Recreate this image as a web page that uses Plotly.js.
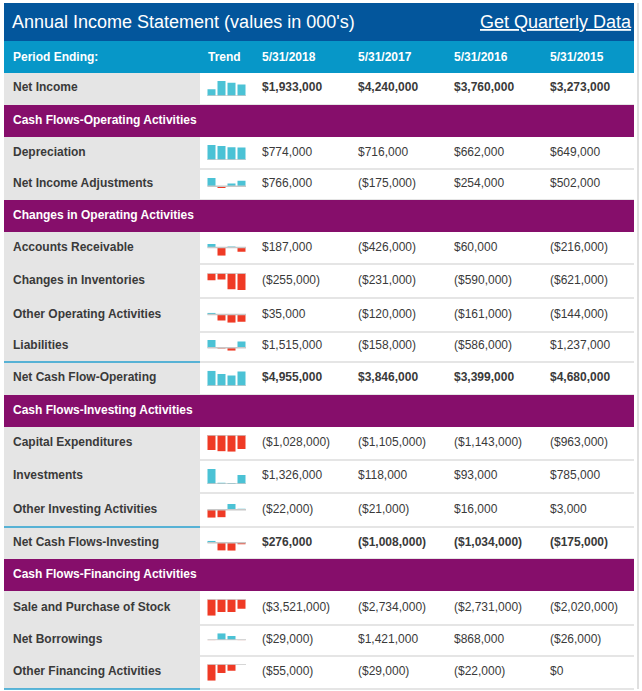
<!DOCTYPE html>
<html><head><meta charset="utf-8">
<script src="https://cdn.plot.ly/plotly-3.0.1.min.js"></script>
<style>html,body{margin:0;padding:0;background:#fff;}#chart{width:642px;height:691px;}</style>
</head><body><div id="chart"></div>
<script>
// ---------- DATA ----------
const chartTitle = "Annual Income Statement (values in 000's)";
const linkText = "Get Quarterly Data";
const headerLabel = "Period Ending:";
const trendLabel = "Trend";
const periods = ['5/31/2018', '5/31/2017', '5/31/2016', '5/31/2015'];
const sections = ['Cash Flows-Operating Activities', 'Changes in Operating Activities',
                  'Cash Flows-Investing Activities', 'Cash Flows-Financing Activities'];
const items = ['Net Income', 'Depreciation', 'Net Income Adjustments', 'Accounts Receivable',
  'Changes in Inventories', 'Other Operating Activities', 'Liabilities', 'Net Cash Flow-Operating',
  'Capital Expenditures', 'Investments', 'Other Investing Activities', 'Net Cash Flows-Investing',
  'Sale and Purchase of Stock', 'Net Borrowings', 'Other Financing Activities'];
const v2018 = [1933000, 774000, 766000, 187000, -255000, 35000, 1515000, 4955000,
  -1028000, 1326000, -22000, 276000, -3521000, -29000, -55000];
const v2017 = [4240000, 716000, -175000, -426000, -231000, -120000, -158000, 3846000,
  -1105000, 118000, -21000, -1008000, -2734000, 1421000, -29000];
const v2016 = [3760000, 662000, 254000, 60000, -590000, -161000, -586000, 3399000,
  -1143000, 93000, 16000, -1034000, -2731000, 868000, -22000];
const v2015 = [3273000, 649000, 502000, -216000, -621000, -144000, 1237000, 4680000,
  -963000, 785000, 3000, -175000, -2020000, -26000, 0];
const totalItems = ['Net Income', 'Net Cash Flow-Operating', 'Net Cash Flows-Investing'];

// ---------- LAYOUT (pixels) ----------
const W = 642, H = 691;
const order = ['i0','s0','i1','i2','s1','i3','i4','i5','i6','i7','s2','i8','i9','i10','i11','s3','i12','i13','i14'];
const rowY = [73,105,137,169,200,232,264,298,332,362,395,427,460,493,527,559,591,625,656,689];
const sparkTop = [81,145,178,244,273.3,312.7,340,370.7,435,469,504,540.7,599.3,633.3,664.3];
const sparkBot = [96,160,188,255.7,290,322.7,350.7,386,451.7,484,517.7,550.7,615.7,640.2,680.7];
const colX = [262, 358, 454, 550];
const L = 4, R = 634, labelR = 200;
const C = {title:'#03569c', header:'#0797c8', section:'#860e6b', labelBg:'#e5e5e5',
  sep:'#dcdcdc', blue:'#27a0cf', text:'#3a3a3a', pos:'#4bc2d5', neg:'#ef3a25', base:'#c8c8c8'};
const FONT = 'Liberation Sans, Arial, sans-serif';

const px = x => x / W;
const py = y => 1 - y / H;
const fmt = v => (v < 0 ? '($' : '$') + Math.abs(v).toLocaleString('en-US') + (v < 0 ? ')' : '');

const shapes = [], annotations = [], traces = [], layoutAxes = {};
function rect(x0, y0, x1, y1, color) {
  shapes.push({type:'rect', xref:'paper', yref:'paper', x0:px(x0), x1:px(x1), y0:py(y1), y1:py(y0),
    fillcolor:color, line:{width:0}, layer:'below'});
}
function hline(x0, x1, y, color, w) {
  shapes.push({type:'line', xref:'paper', yref:'paper', x0:px(x0), x1:px(x1), y0:py(y), y1:py(y),
    line:{color:color, width:w}, layer:'below'});
}
function text(x, y, t, opts) {
  opts = opts || {};
  const right = opts.anchor === 'right';
  annotations.push({xref:'paper', yref:'paper', x:px(x), y:py(y), text:t, showarrow:false,
    xanchor:right ? 'right' : 'left', yanchor:'middle',
    xshift: right ? 3 : -2, yshift: opts.yshift || 0,
    font:{family:FONT, size:opts.size || 12, color:opts.color || C.text}});
}

// title bar & header
rect(L, 3, R, 41, C.title);
text(12, 22, chartTitle, {size:18, color:'#ffffff'});
text(631, 22, '<span style="text-decoration:underline">' + linkText + '</span>', {size:18, color:'#ffffff', anchor:'right'});
rect(L, 41, R, 73, C.header);
text(13, 57, '<b>' + headerLabel + '</b>', {color:'#ffffff'});
text(208, 57, '<b>' + trendLabel + '</b>', {color:'#ffffff'});
periods.forEach((p, j) => text(colX[j], 57, '<b>' + p + '</b>', {color:'#ffffff'}));

// right border
shapes.push({type:'line', xref:'paper', yref:'paper', x0:px(638), x1:px(638), y0:py(3), y1:py(689),
  line:{color:'#d4d4d4', width:1.5}, layer:'below'});

let n = 0;
order.forEach((key, r) => {
  const y0 = rowY[r], y1 = rowY[r + 1], yc = (y0 + y1) / 2;
  const idx = parseInt(key.slice(1), 10);
  if (key[0] === 's') {
    rect(L, y0, R, y1, C.section);
    text(13, yc, '<b>' + sections[idx] + '</b>', {color:'#ffffff', yshift:1});
    return;
  }
  rect(L, y0, labelR, y1, C.labelBg);
  hline(labelR, R, y1, C.sep, 1.5);
  const name = items[idx];
  const bold = totalItems.includes(name);
  if (bold && idx !== 0) hline(L, labelR, y0, C.blue, 1.5);
  text(13, yc, '<b>' + name + '</b>', {yshift:1.5});
  const vals = [v2018[idx], v2017[idx], v2016[idx], v2015[idx]];
  vals.forEach((v, j) => text(colX[j], yc, bold ? '<b>' + fmt(v) + '</b>' : fmt(v), {yshift:1.5}));

  // sparkline
  n += 1;
  const sx = n === 1 ? '' : String(n);
  traces.push({type:'bar', x:periods, y:vals, xaxis:'x' + sx, yaxis:'y' + sx,
    marker:{color:vals.map(v => v >= 0 ? C.pos : C.neg), line:{width:0}},
    hoverinfo:'skip', showlegend:false});
  const lo = Math.min(0, ...vals), hi = Math.max(0, ...vals);
  layoutAxes['xaxis' + sx] = {domain:[px(206.5), px(246.5)], range:[-0.5, 3.5], type:'category',
    visible:false, fixedrange:true, anchor:'y' + sx};
  layoutAxes['yaxis' + sx] = {domain:[py(sparkBot[idx]), py(sparkTop[idx])], range:[lo, hi],
    visible:false, fixedrange:true, anchor:'x' + sx};
  shapes.push({type:'line', xref:'paper', yref:'y' + sx, x0:px(207.5), x1:px(246), y0:0, y1:0,
    line:{color:C.base, width:1.5}, layer:'above'});
});
// bottom blue line of label column
hline(L, labelR, 689, C.blue, 1.5);

const layout = Object.assign({
  width:W, height:H, margin:{l:0, r:0, t:0, b:0, pad:0},
  paper_bgcolor:'#ffffff', plot_bgcolor:'rgba(0,0,0,0)',
  bargap:0.2, showlegend:false, shapes:shapes, annotations:annotations,
  font:{family:FONT}
}, layoutAxes);

Plotly.newPlot('chart', traces, layout, {displayModeBar:false, staticPlot:true});
</script>
</body></html>
